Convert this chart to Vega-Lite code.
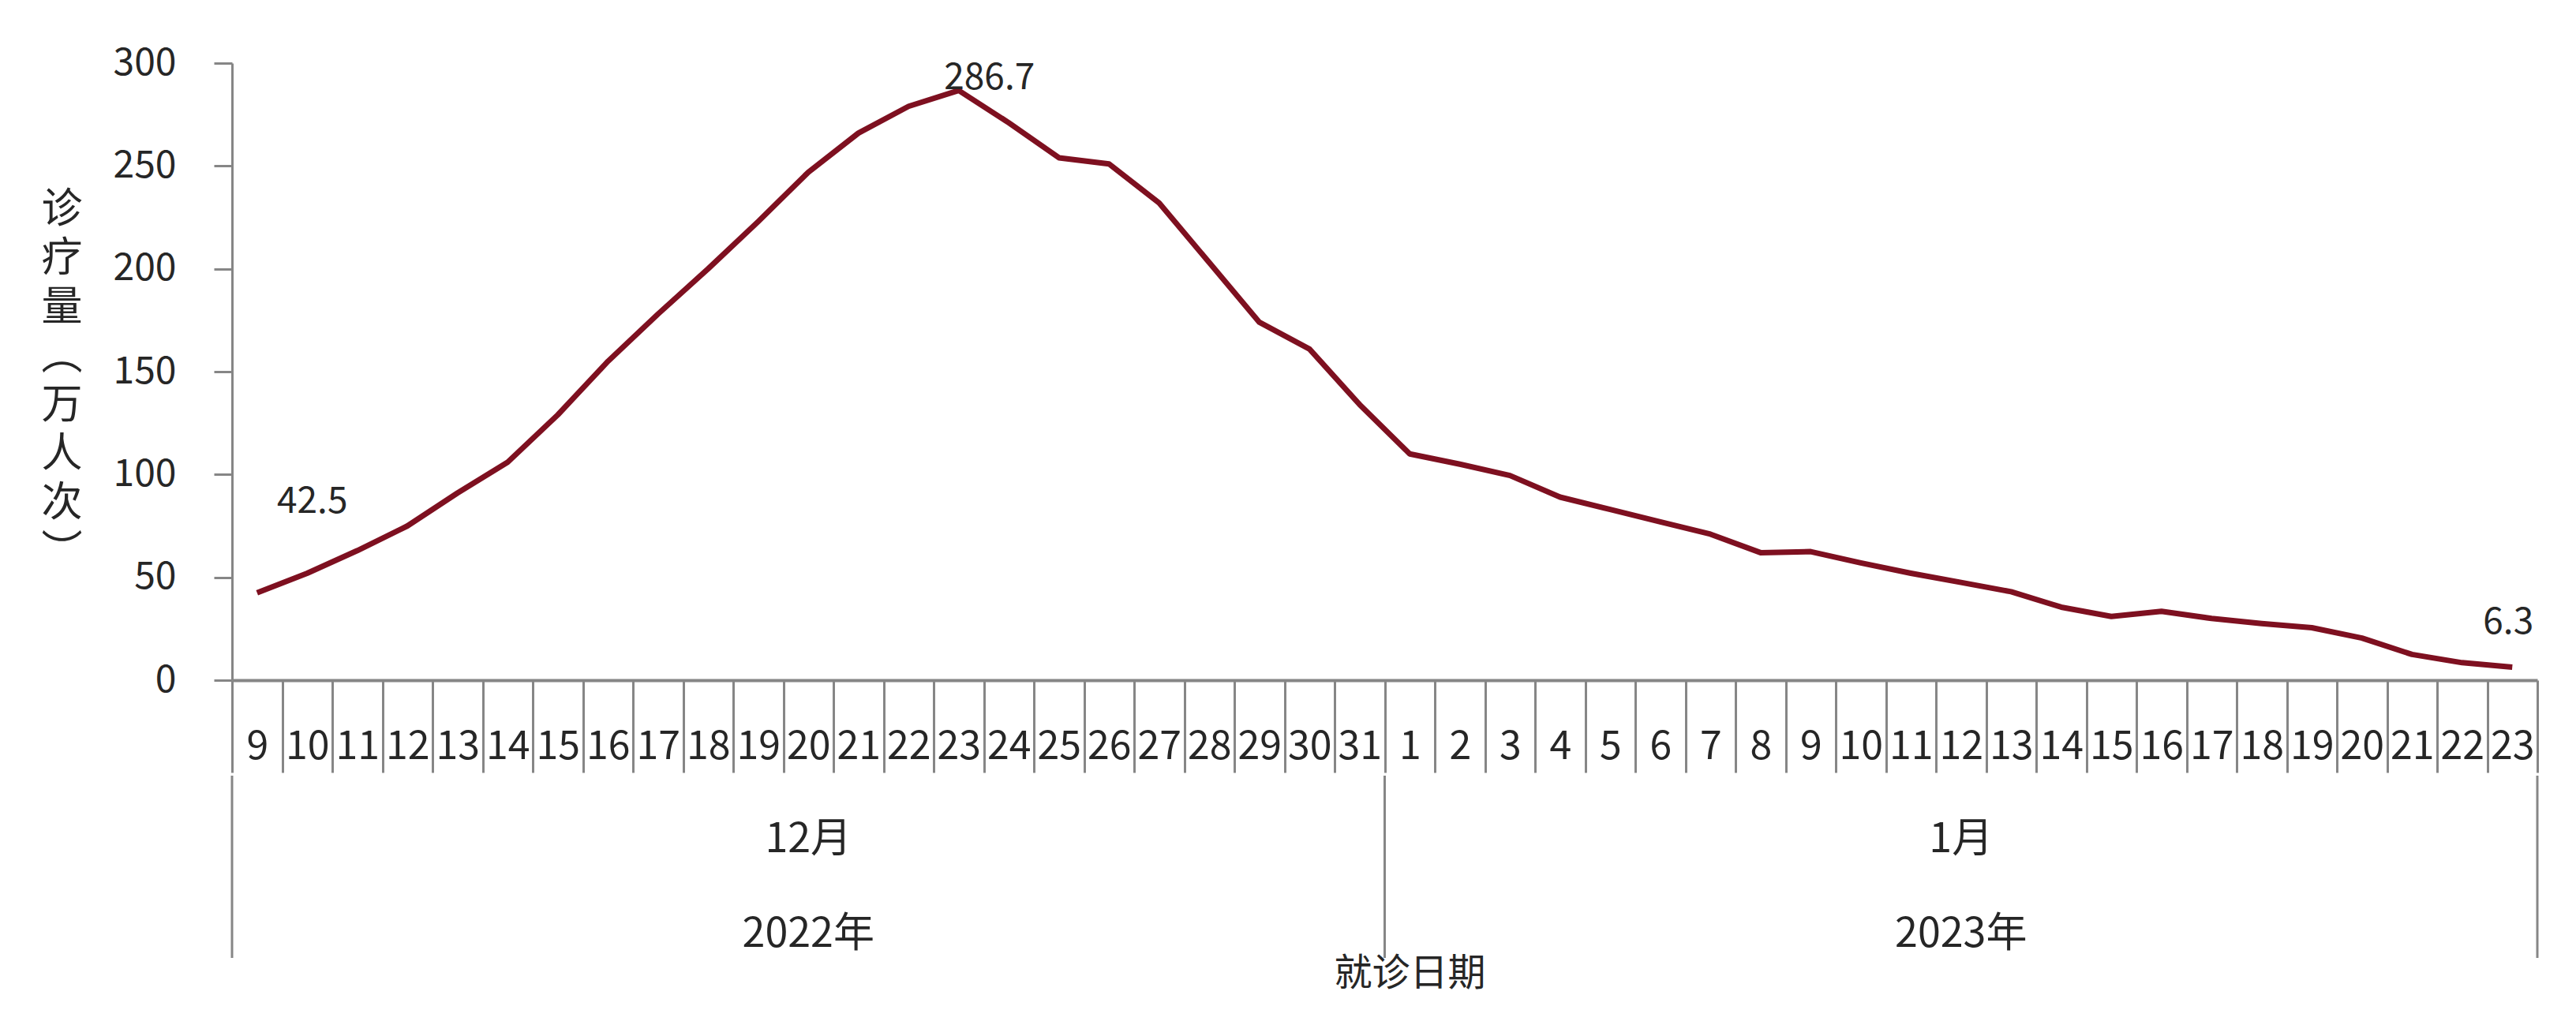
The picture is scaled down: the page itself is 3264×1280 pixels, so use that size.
{
  "$schema": "https://vega.github.io/schema/vega-lite/v6.json",
  "description": "诊疗量（万人次）by 就诊日期, 2022-12-09 to 2023-01-23",
  "padding": {"left": 51, "top": 56, "right": 10, "bottom": 0},
  "background": "white",
  "config": {
    "view": {"stroke": null},
    "font": "Noto Sans CJK SC",
    "text": {"color": "#262626", "font": "Noto Sans CJK SC"}
  },
  "datasets": {
    "daily": [
      {"date": "2022-12-09", "value": 42.5},
      {"date": "2022-12-10", "value": 52},
      {"date": "2022-12-11", "value": 63},
      {"date": "2022-12-12", "value": 75},
      {"date": "2022-12-13", "value": 91},
      {"date": "2022-12-14", "value": 106},
      {"date": "2022-12-15", "value": 129},
      {"date": "2022-12-16", "value": 155},
      {"date": "2022-12-17", "value": 178},
      {"date": "2022-12-18", "value": 200},
      {"date": "2022-12-19", "value": 223},
      {"date": "2022-12-20", "value": 247},
      {"date": "2022-12-21", "value": 266},
      {"date": "2022-12-22", "value": 279},
      {"date": "2022-12-23", "value": 286.7},
      {"date": "2022-12-24", "value": 271},
      {"date": "2022-12-25", "value": 254},
      {"date": "2022-12-26", "value": 251},
      {"date": "2022-12-27", "value": 232},
      {"date": "2022-12-28", "value": 203},
      {"date": "2022-12-29", "value": 174},
      {"date": "2022-12-30", "value": 161},
      {"date": "2022-12-31", "value": 134},
      {"date": "2023-01-01", "value": 110},
      {"date": "2023-01-02", "value": 105},
      {"date": "2023-01-03", "value": 99.5},
      {"date": "2023-01-04", "value": 89},
      {"date": "2023-01-05", "value": 83},
      {"date": "2023-01-06", "value": 77},
      {"date": "2023-01-07", "value": 71},
      {"date": "2023-01-08", "value": 62},
      {"date": "2023-01-09", "value": 62.5},
      {"date": "2023-01-10", "value": 57},
      {"date": "2023-01-11", "value": 52},
      {"date": "2023-01-12", "value": 47.5},
      {"date": "2023-01-13", "value": 43},
      {"date": "2023-01-14", "value": 35.5},
      {"date": "2023-01-15", "value": 31},
      {"date": "2023-01-16", "value": 33.5},
      {"date": "2023-01-17", "value": 30},
      {"date": "2023-01-18", "value": 27.5},
      {"date": "2023-01-19", "value": 25.5},
      {"date": "2023-01-20", "value": 20.5},
      {"date": "2023-01-21", "value": 12.5},
      {"date": "2023-01-22", "value": 8.5},
      {"date": "2023-01-23", "value": 6.3}
    ],
    "groups": [
      {"date": "2022-12-20", "level": "月", "label": "12月"},
      {"date": "2023-01-12", "level": "月", "label": "1月"},
      {"date": "2022-12-20", "level": "年", "label": "2022年"},
      {"date": "2023-01-12", "level": "年", "label": "2023年"}
    ],
    "edges": [
      {"date": "2022-12-09", "edge": "start"},
      {"date": "2023-01-01", "edge": "start"},
      {"date": "2023-01-23", "edge": "end"}
    ]
  },
  "spacing": 0,
  "resolve": {"scale": {"x": "shared"}},
  "vconcat": [
    {
      "width": 2921,
      "height": 782,
      "data": {"name": "daily"},
      "encoding": {
        "x": {
          "field": "date",
          "type": "ordinal",
          "scale": {"type": "band", "paddingInner": 0, "paddingOuter": 0},
          "axis": {
            "title": null,
            "labelExpr": "isString(datum.value) ? (substring(datum.value, 8, 9) == '0' ? substring(datum.value, 9, 10) : substring(datum.value, 8, 10)) : ''",
            "labelAngle": 0,
            "labelOverlap": false,
            "labelFontSize": 50,
            "labelColor": "#262626",
            "labelPadding": -58,
            "tickBand": "extent",
            "tickSize": 117,
            "tickWidth": 3,
            "tickColor": "#868686",
            "domainColor": "#868686",
            "domainWidth": 4
          }
        },
        "y": {
          "field": "value",
          "type": "quantitative",
          "scale": {"domain": [0, 300], "nice": false},
          "axis": {
            "values": [0, 50, 100, 150, 200, 250, 300],
            "grid": false,
            "title": ["诊", "疗", "量", "︵", "万", "人", "次", "︶"],
            "titleAngle": 0,
            "titleAlign": "center",
            "titleBaseline": "top",
            "titleX": -216,
            "titleY": 160,
            "titleFontSize": 52,
            "titleLineHeight": 62,
            "titleFontWeight": "normal",
            "titleColor": "#262626",
            "labelFontSize": 48,
            "labelColor": "#262626",
            "labelPadding": 48,
            "tickSize": 23,
            "tickWidth": 3,
            "tickColor": "#868686",
            "domainColor": "#868686",
            "domainWidth": 3
          }
        }
      },
      "layer": [
        {
          "mark": {"type": "line", "color": "#7E1020", "strokeWidth": 7, "strokeJoin": "round"}
        },
        {
          "transform": [{"filter": "datum.date == '2022-12-09'"}],
          "mark": {"type": "text", "fontSize": 46, "dx": 70, "dy": -115},
          "encoding": {"text": {"field": "value", "type": "quantitative", "format": ".1f"}}
        },
        {
          "transform": [{"filter": "datum.date == '2022-12-23'"}],
          "mark": {"type": "text", "fontSize": 46, "dx": 39, "dy": -16},
          "encoding": {"text": {"field": "value", "type": "quantitative", "format": ".1f"}}
        },
        {
          "transform": [{"filter": "datum.date == '2023-01-23'"}],
          "mark": {"type": "text", "fontSize": 46, "dx": -5, "dy": -57},
          "encoding": {"text": {"field": "value", "type": "quantitative", "format": ".1f"}}
        }
      ]
    },
    {
      "width": 2921,
      "height": 231,
      "layer": [
        {
          "data": {"name": "edges"},
          "transform": [{"filter": "datum.edge == 'start'"}],
          "mark": {"type": "rule", "color": "#868686", "strokeWidth": 3},
          "encoding": {
            "x": {
              "field": "date",
              "type": "ordinal",
              "bandPosition": 0,
              "scale": {"type": "band", "paddingInner": 0, "paddingOuter": 0},
              "axis": {"labels": false, "ticks": false, "domain": false, "title": "就诊日期", "titleFontSize": 48, "titleFontWeight": "normal", "titleColor": "#262626", "titleBaseline": "middle", "titlePadding": 20, "titleX": 1492, "titleAlign": "center"}
            }
          }
        },
        {
          "data": {"name": "edges"},
          "transform": [{"filter": "datum.edge == 'end'"}],
          "mark": {"type": "rule", "color": "#868686", "strokeWidth": 3},
          "encoding": {
            "x": {
              "field": "date",
              "type": "ordinal",
              "bandPosition": 1,
              "scale": {"type": "band", "paddingInner": 0, "paddingOuter": 0},
              "axis": {"labels": false, "ticks": false, "domain": false, "title": "就诊日期", "titleFontSize": 48, "titleFontWeight": "normal", "titleColor": "#262626", "titleBaseline": "middle", "titlePadding": 20, "titleX": 1492, "titleAlign": "center"}
            }
          }
        },
        {
          "data": {"name": "groups"},
          "mark": {"type": "text", "fontSize": 52, "baseline": "middle"},
          "encoding": {
            "x": {
              "field": "date",
              "type": "ordinal",
              "scale": {"type": "band", "paddingInner": 0, "paddingOuter": 0},
              "axis": {"labels": false, "ticks": false, "domain": false, "title": "就诊日期", "titleFontSize": 48, "titleFontWeight": "normal", "titleColor": "#262626", "titleBaseline": "middle", "titlePadding": 20, "titleX": 1492, "titleAlign": "center"}
            },
            "y": {
              "field": "level",
              "type": "ordinal",
              "scale": {"type": "point", "domain": ["月", "年"], "range": [81, 201], "padding": 0},
              "axis": null
            },
            "text": {"field": "label"}
          }
        }
      ]
    }
  ]
}
